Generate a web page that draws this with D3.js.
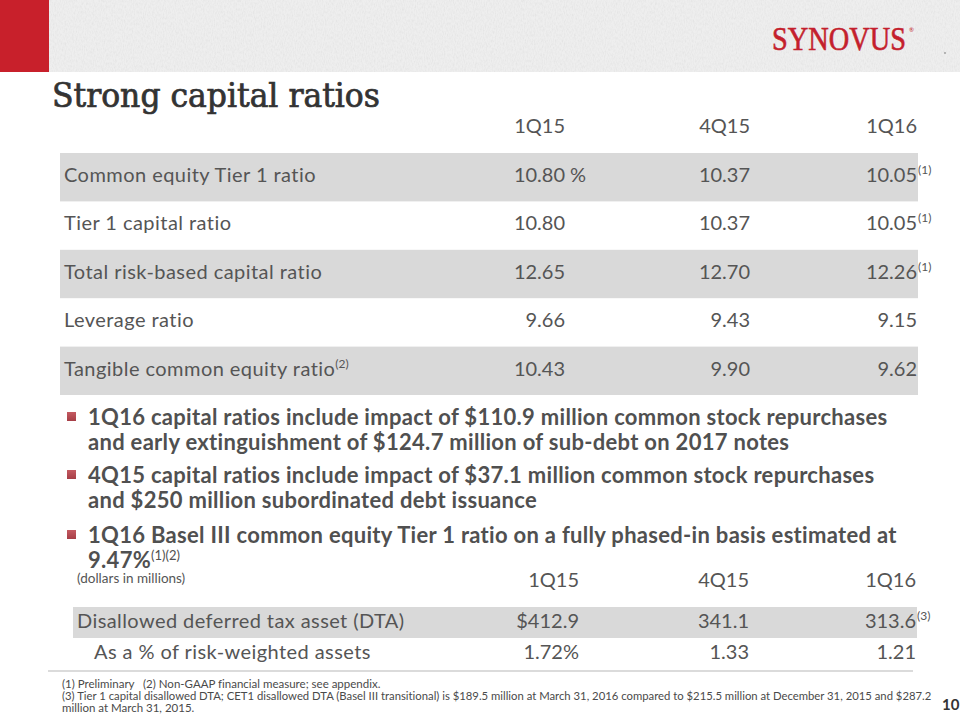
<!DOCTYPE html>
<html><head><meta charset="utf-8">
<script src="https://cdn.jsdelivr.net/npm/d3@7"></script>
<style>html,body{margin:0;padding:0;background:#fff} svg{display:block} text{font-variant-ligatures:none;font-feature-settings:"liga" 0,"clig" 0}</style>
</head><body><svg id="c" width="960" height="720"></svg>
<script>
// ---------- data ----------
const periods = ["1Q15", "4Q15", "1Q16"];
const ratioLabels = ["Common equity Tier 1 ratio", "Tier 1 capital ratio", "Total risk-based capital ratio", "Leverage ratio", "Tangible common equity ratio"];
const ratioLabelNotes = ["", "", "", "", "(2)"];
const ratios1Q15 = [10.80, 10.80, 12.65, 9.66, 10.43];
const ratios4Q15 = [10.37, 10.37, 12.70, 9.43, 9.90];
const ratios1Q16 = [10.05, 10.05, 12.26, 9.15, 9.62];
const ratios1Q16Notes = ["(1)", "(1)", "(1)", "", ""];
const bulletLines = [
  ["1Q16 capital ratios include impact of $110.9 million common stock repurchases", "and early extinguishment of $124.7 million of sub-debt on 2017 notes"],
  ["4Q15 capital ratios include impact of $37.1 million common stock repurchases", "and $250 million subordinated debt issuance"],
  ["1Q16 Basel III common equity Tier 1 ratio on a fully phased-in basis estimated at", "9.47%"]
];
const bulletNotes = ["", "", "(1)(2)"];
const dtaLabels = ["Disallowed deferred tax asset (DTA)", "As a % of risk-weighted assets"];
const dta1Q15 = [412.9, 1.72];
const dta4Q15 = [341.1, 1.33];
const dta1Q16 = [313.6, 1.21];
const dta1Q16Notes = ["(3)", ""];
const unitsNote = "(dollars in millions)";
const footnoteA = "(1) Preliminary";
const footnoteB = "(2) Non-GAAP financial measure; see appendix.";
const footnoteC = "(3) Tier 1 capital disallowed DTA; CET1 disallowed DTA (Basel III transitional) is $189.5 million at March 31, 2016 compared to $215.5 million at December 31, 2015 and $287.2";
const footnoteD = "million at March 31, 2015.";
const title = "Strong capital ratios";
const logoText = "SYNOVUS";
const pageNumber = "10";

// ---------- setup ----------
const svg = d3.select("#c");
const SANS = "Lato, 'Open Sans', sans-serif";
const TXT = "#555555";
const BAND = "#d9d9d9";

// header with light paper texture
const defs = svg.append("defs");
const f = defs.append("filter").attr("id", "paper").attr("x", 0).attr("y", 0).attr("width", 1).attr("height", 1);
f.append("feTurbulence").attr("type", "fractalNoise").attr("baseFrequency", "0.9 0.35").attr("numOctaves", 2).attr("seed", 3).attr("result", "n");
f.append("feColorMatrix").attr("in", "n").attr("type", "matrix")
  .attr("values", "0 0 0 0 0.55  0 0 0 0 0.55  0 0 0 0 0.55  0 0 0 -0.9 0.55").attr("result", "m");
f.append("feComposite").attr("in", "m").attr("in2", "SourceGraphic").attr("operator", "in");
const bg = defs.append("linearGradient").attr("id", "bul").attr("x1", 0).attr("y1", 0).attr("x2", 0).attr("y2", 1);
bg.append("stop").attr("offset", "0%").attr("stop-color", "#c45a61");
bg.append("stop").attr("offset", "100%").attr("stop-color", "#a63e46");

svg.append("rect").attr("x", 0).attr("y", 0).attr("width", 960).attr("height", 72).attr("fill", "#eeeeee");
svg.append("rect").attr("x", 0).attr("y", 0).attr("width", 960).attr("height", 72).attr("fill", "#eeeeee").attr("filter", "url(#paper)").attr("opacity", 0.5);
svg.append("rect").attr("x", 0).attr("y", 0).attr("width", 49).attr("height", 72).attr("fill", "#c8202b");

// fit a text horizontally into a given width by scaling its group
function fitWidth(g, t, x, y, width) {
  const w = t.node().getComputedTextLength();
  g.attr("transform", `translate(${x},${y}) scale(${width / w},1)`);
}

// logo
const logoG = svg.append("g");
const logo = logoG.append("text").attr("x", 0).attr("y", 0)
  .attr("font-family", "'Liberation Serif', 'Times New Roman', serif").attr("font-size", 33)
  .attr("fill", "#c41f2d").attr("stroke", "#c41f2d").attr("stroke-width", 0.6).text(logoText);
fitWidth(logoG, logo, 772, 50, 134);
svg.append("text").attr("x", 909).attr("y", 32).attr("font-size", 6).attr("font-family", SANS).attr("fill", "#c41f2d").text("®");
svg.append("circle").attr("cx", 945).attr("cy", 53).attr("r", 0.9).attr("fill", "#9a9a9a");

// title
const titleG = svg.append("g");
const titleT = titleG.append("text").attr("x", 0).attr("y", 0)
  .attr("font-family", "'DejaVu Serif Condensed', 'DejaVu Serif', serif")
  .attr("font-stretch", "condensed")
  .attr("font-size", 33).attr("fill", "#333333").attr("stroke", "#333333").attr("stroke-width", 0.7)
  .text(title);
fitWidth(titleG, titleT, 52, 107, 328);

// ---------- table 1 ----------
const rowIdx = d3.range(ratioLabels.length);
const y1 = d3.scaleBand().domain(rowIdx).range([153, 395]).paddingInner(0);
const xCol = d3.scaleOrdinal().domain(periods).range([565, 750, 917]);
const fmt2 = d3.format(".2f");

svg.append("g").selectAll("text").data(periods).join("text")
  .attr("x", d => xCol(d)).attr("y", 133).attr("text-anchor", "end")
  .attr("font-family", SANS).attr("font-size", 20).attr("fill", TXT).text(d => d);

svg.append("g").selectAll("rect").data(rowIdx.filter(i => i % 2 === 0)).join("rect")
  .attr("x", 60).attr("width", 858).attr("y", i => y1(i)).attr("height", y1.bandwidth()).attr("fill", BAND);

const lab = svg.append("g").selectAll("text").data(rowIdx).join("text")
  .attr("x", 64).attr("y", i => y1(i) + 29)
  .attr("font-family", SANS).attr("font-size", 20).attr("fill", TXT);
lab.append("tspan").attr("letter-spacing", 0.45).text(i => ratioLabels[i]);
lab.append("tspan").attr("font-size", 12).attr("dy", -8).text(i => ratioLabelNotes[i]);

const cols1 = [ratios1Q15, ratios4Q15, ratios1Q16];
periods.forEach((p, c) => {
  svg.append("g").selectAll("text").data(rowIdx).join("text")
    .attr("x", xCol(p)).attr("y", i => y1(i) + 29).attr("text-anchor", "end")
    .attr("font-family", SANS).attr("font-size", 20).attr("fill", TXT)
    .text(i => fmt2(cols1[c][i]));
});
svg.append("text").attr("x", xCol(periods[0]) + 5).attr("y", y1(0) + 29)
  .attr("font-family", SANS).attr("font-size", 20).attr("fill", TXT).text("%");
svg.append("g").selectAll("text").data(rowIdx).join("text")
  .attr("x", xCol(periods[2]) + 1).attr("y", i => y1(i) + 21)
  .attr("font-family", SANS).attr("font-size", 12).attr("fill", TXT)
  .text(i => ratios1Q16Notes[i]);

// ---------- bullets ----------
const bulletBase = [425, 483, 543];
const lineGap = 24.5;
bulletLines.forEach((lines, b) => {
  svg.append("rect").attr("x", 67).attr("y", bulletBase[b] - 13).attr("width", 9).attr("height", 9)
    .attr("fill", "url(#bul)");
  const t = svg.append("g").selectAll("text").data(lines).join("text")
    .attr("x", 88).attr("y", (d, i) => bulletBase[b] + i * lineGap)
    .attr("font-family", SANS).attr("font-weight", 700).attr("font-size", 22).attr("fill", "#505050");
  t.append("tspan").attr("letter-spacing", 0.3).text(d => d);
  t.filter((d, i) => i === lines.length - 1).append("tspan")
    .attr("font-size", 13).attr("font-weight", 400).attr("dy", -8).text(bulletNotes[b]);
});

svg.append("text").attr("x", 77).attr("y", 583).attr("font-family", SANS).attr("font-size", 13.5).attr("fill", TXT).text(unitsNote);

// ---------- table 2 ----------
const xCol2 = d3.scaleOrdinal().domain(periods).range([579, 749, 916]);
const y2 = d3.scaleBand().domain([0, 1]).range([607, 669]).paddingInner(0);
svg.append("g").selectAll("text").data(periods).join("text")
  .attr("x", d => xCol2(d)).attr("y", 587).attr("text-anchor", "end")
  .attr("font-family", SANS).attr("font-size", 20).attr("fill", TXT).text(d => d);
svg.append("rect").attr("x", 73).attr("width", 844).attr("y", y2(0)).attr("height", y2.bandwidth()).attr("fill", BAND);
svg.append("g").selectAll("text").data([0, 1]).join("text")
  .attr("x", i => i === 0 ? 77 : 94).attr("y", i => y2(i) + 21)
  .attr("font-family", SANS).attr("font-size", 20).attr("letter-spacing", 0.42).attr("fill", TXT).text(i => dtaLabels[i]);
const cols2 = [dta1Q15, dta4Q15, dta1Q16];
periods.forEach((p, c) => {
  svg.append("g").selectAll("text").data([0, 1]).join("text")
    .attr("x", xCol2(p)).attr("y", i => y2(i) + 21).attr("text-anchor", "end")
    .attr("font-family", SANS).attr("font-size", 20).attr("fill", TXT)
    .text(i => {
      const v = cols2[c][i];
      if (i === 0) return (c === 0 ? "$" : "") + d3.format(".1f")(v);
      return d3.format(".2f")(v) + (c === 0 ? "%" : "");
    });
});
svg.append("g").selectAll("text").data([0, 1]).join("text")
  .attr("x", xCol2(periods[2]) + 1).attr("y", i => y2(i) + 13)
  .attr("font-family", SANS).attr("font-size", 12).attr("fill", TXT).text(i => dta1Q16Notes[i]);

svg.append("line").attr("x1", 48).attr("x2", 913).attr("y1", 671).attr("y2", 671)
  .attr("stroke", "#cfcfcf").attr("stroke-width", 1.5);

// ---------- footnotes ----------
const fn = (x, y, s, len) => {
  const t = svg.append("text").attr("x", x).attr("y", y).attr("font-family", SANS).attr("font-size", 11.5).attr("fill", "#4a4a4a").text(s);
  if (len) {
    const w = t.node().getComputedTextLength();
    t.attr("font-size", 11.5 * len / w);
  }
};
fn(62, 688, footnoteA);
fn(143, 688, footnoteB);
fn(62, 700, footnoteC, 870);
fn(62, 712, footnoteD);
svg.append("text").attr("x", 942).attr("y", 710).attr("font-family", SANS).attr("font-weight", 700)
  .attr("font-size", 15).attr("fill", "#333").text(pageNumber);
</script></body></html>
